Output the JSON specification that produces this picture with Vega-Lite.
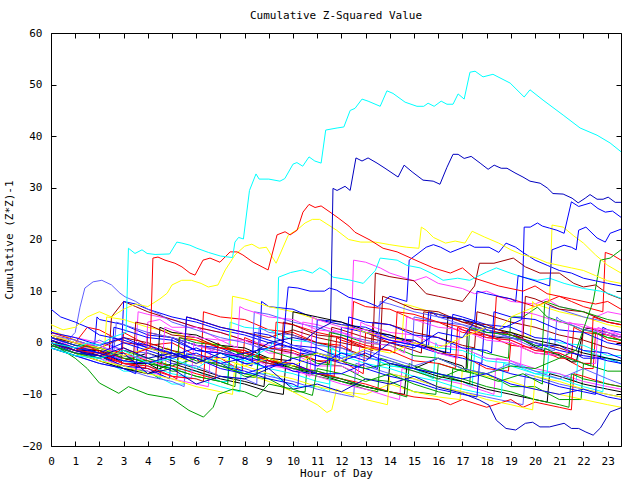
{
"$schema":"https://vega.github.io/schema/vega-lite/v6.json",
"width":570,"height":413,"autosize":"none",
"padding":{"left":51,"top":33,"right":19,"bottom":34},
"background":"white",
"config":{"view":{"stroke":"black","strokeWidth":1},"font":"DejaVu Sans Mono"},
"title":{"text":"Cumulative Z-Squared Value","font":"DejaVu Sans Mono","fontSize":11,"fontWeight":"normal","color":"black","anchor":"middle","offset":6},
"datasets":{"d":[
{"s":"q1","h":0,"v":0.5},{"s":"q1","h":1,"v":-1.5},{"s":"q1","h":2,"v":-2},{"s":"q1","h":2.9,"v":-4.5},{"s":"q1","h":3,"v":2},{"s":"q1","h":4,"v":-0.5},{"s":"q1","h":5,"v":0},{"s":"q1","h":6,"v":-2.5},{"s":"q1","h":7,"v":-3},{"s":"q1","h":7.9,"v":-5.5},{"s":"q1","h":8,"v":1},{"s":"q1","h":9,"v":-1},{"s":"q1","h":10,"v":-1.5},{"s":"q1","h":11,"v":-3.5},{"s":"q1","h":12,"v":-3.5},{"s":"q1","h":12.9,"v":-6},{"s":"q1","h":13,"v":2},{"s":"q1","h":14,"v":0},{"s":"q1","h":15,"v":0.5},{"s":"q1","h":16,"v":-2},{"s":"q1","h":17,"v":-2.5},{"s":"q1","h":18,"v":-5},{"s":"q1","h":18.9,"v":-5.5},{"s":"q1","h":19,"v":0},{"s":"q1","h":20,"v":-2},{"s":"q1","h":21,"v":-2.5},{"s":"q1","h":22,"v":-5},{"s":"q1","h":22.4,"v":-5},{"s":"q1","h":22.5,"v":2},{"s":"q1","h":23,"v":0.5},{"s":"q1","h":23.55,"v":0},
{"s":"q2","h":0,"v":0},{"s":"q2","h":1,"v":-2},{"s":"q2","h":2,"v":-2.5},{"s":"q2","h":3,"v":-5},{"s":"q2","h":4,"v":-5.5},{"s":"q2","h":4.5,"v":-7},{"s":"q2","h":4.6,"v":-1},{"s":"q2","h":5,"v":-1.5},{"s":"q2","h":6,"v":-3.5},{"s":"q2","h":7,"v":-4},{"s":"q2","h":8,"v":-6.5},{"s":"q2","h":9,"v":-7},{"s":"q2","h":10,"v":-9.5},{"s":"q2","h":10.5,"v":-9.5},{"s":"q2","h":10.6,"v":-3},{"s":"q2","h":11,"v":-4},{"s":"q2","h":12,"v":-4.5},{"s":"q2","h":13,"v":-7},{"s":"q2","h":14,"v":-7.5},{"s":"q2","h":15,"v":-9.5},{"s":"q2","h":15.9,"v":-10},{"s":"q2","h":16,"v":-4},{"s":"q2","h":17,"v":-5.5},{"s":"q2","h":18,"v":-6},{"s":"q2","h":19,"v":-8.5},{"s":"q2","h":20,"v":-8.5},{"s":"q2","h":21,"v":-11},{"s":"q2","h":21.9,"v":-11},{"s":"q2","h":22,"v":-4},{"s":"q2","h":23,"v":-5.5},{"s":"q2","h":23.55,"v":-5.5},
{"s":"q3","h":0,"v":1},{"s":"q3","h":1,"v":-0.5},{"s":"q3","h":1.8,"v":-0.5},{"s":"q3","h":1.9,"v":5},{"s":"q3","h":2,"v":4.5},{"s":"q3","h":3,"v":3.5},{"s":"q3","h":4,"v":1.5},{"s":"q3","h":5,"v":1},{"s":"q3","h":6,"v":-1.5},{"s":"q3","h":7,"v":-2},{"s":"q3","h":8,"v":-4},{"s":"q3","h":8.6,"v":-4},{"s":"q3","h":8.7,"v":8},{"s":"q3","h":9,"v":7},{"s":"q3","h":10,"v":6.5},{"s":"q3","h":11,"v":4.5},{"s":"q3","h":12,"v":4},{"s":"q3","h":13,"v":2},{"s":"q3","h":14,"v":1.5},{"s":"q3","h":15,"v":-0.5},{"s":"q3","h":15.6,"v":-0.5},{"s":"q3","h":15.7,"v":6},{"s":"q3","h":16,"v":5},{"s":"q3","h":17,"v":4.5},{"s":"q3","h":18,"v":2},{"s":"q3","h":19,"v":2},{"s":"q3","h":20,"v":-0.5},{"s":"q3","h":21,"v":-0.5},{"s":"q3","h":22,"v":-3},{"s":"q3","h":23,"v":-3},{"s":"q3","h":23.55,"v":-4},
{"s":"q4","h":0,"v":2},{"s":"q4","h":1,"v":1},{"s":"q4","h":2,"v":0},{"s":"q4","h":3,"v":-1.5},{"s":"q4","h":3.5,"v":-2},{"s":"q4","h":3.6,"v":6},{"s":"q4","h":4,"v":5.5},{"s":"q4","h":5,"v":4.5},{"s":"q4","h":6,"v":3},{"s":"q4","h":7,"v":2},{"s":"q4","h":8,"v":0.5},{"s":"q4","h":9,"v":-0.5},{"s":"q4","h":10,"v":-2},{"s":"q4","h":10.3,"v":-2.5},{"s":"q4","h":10.4,"v":4},{"s":"q4","h":11,"v":3.5},{"s":"q4","h":12,"v":2},{"s":"q4","h":12.4,"v":1.5},{"s":"q4","h":12.5,"v":16},{"s":"q4","h":13,"v":15.6},{"s":"q4","h":13.6,"v":14.5},{"s":"q4","h":14,"v":13.5},{"s":"q4","h":15,"v":12},{"s":"q4","h":15.5,"v":12.8},{"s":"q4","h":16,"v":11.5},{"s":"q4","h":17,"v":10.5},{"s":"q4","h":17.5,"v":9.5},{"s":"q4","h":18,"v":10},{"s":"q4","h":18.5,"v":9},{"s":"q4","h":19,"v":8},{"s":"q4","h":20,"v":7.5},{"s":"q4","h":20.5,"v":8.5},{"s":"q4","h":21,"v":7},{"s":"q4","h":22,"v":6},{"s":"q4","h":22.5,"v":5},{"s":"q4","h":23,"v":6},{"s":"q4","h":23.55,"v":5.5},
{"s":"q5","h":0,"v":-0.5},{"s":"q5","h":1,"v":-2.5},{"s":"q5","h":2,"v":-3},{"s":"q5","h":3,"v":-5.5},{"s":"q5","h":4,"v":-5.5},{"s":"q5","h":5,"v":-8},{"s":"q5","h":5.5,"v":-8},{"s":"q5","h":5.6,"v":-2},{"s":"q5","h":6,"v":-3},{"s":"q5","h":7,"v":-3.5},{"s":"q5","h":8,"v":-6},{"s":"q5","h":9,"v":-6},{"s":"q5","h":10,"v":-8.5},{"s":"q5","h":11,"v":-8.5},{"s":"q5","h":11.5,"v":-9.5},{"s":"q5","h":11.6,"v":-1},{"s":"q5","h":12,"v":-2},{"s":"q5","h":13,"v":-2.5},{"s":"q5","h":14,"v":-4.5},{"s":"q5","h":15,"v":-5},{"s":"q5","h":16,"v":-7},{"s":"q5","h":17,"v":-7.5},{"s":"q5","h":17.4,"v":-8.5},{"s":"q5","h":17.5,"v":-2},{"s":"q5","h":18,"v":-3},{"s":"q5","h":19,"v":-3.5},{"s":"q5","h":20,"v":-5.5},{"s":"q5","h":21,"v":-6},{"s":"q5","h":21.7,"v":-7.5},{"s":"q5","h":21.8,"v":-1},{"s":"q5","h":22,"v":-1.5},{"s":"q5","h":23,"v":-3},{"s":"q5","h":23.55,"v":-3.5},
{"s":"q6","h":0,"v":1.5},{"s":"q6","h":1,"v":0},{"s":"q6","h":2,"v":-1.5},{"s":"q6","h":2.4,"v":-2},{"s":"q6","h":2.5,"v":5},{"s":"q6","h":3,"v":8},{"s":"q6","h":3.5,"v":7},{"s":"q6","h":4,"v":6},{"s":"q6","h":5,"v":4.5},{"s":"q6","h":6,"v":3},{"s":"q6","h":7,"v":2},{"s":"q6","h":8,"v":0.5},{"s":"q6","h":9,"v":-1},{"s":"q6","h":10,"v":-2},{"s":"q6","h":11,"v":-3.5},{"s":"q6","h":11.5,"v":-4},{"s":"q6","h":11.6,"v":3},{"s":"q6","h":12,"v":2.5},{"s":"q6","h":13,"v":1},{"s":"q6","h":14,"v":0},{"s":"q6","h":15,"v":-1.5},{"s":"q6","h":15.3,"v":-2},{"s":"q6","h":15.4,"v":6},{"s":"q6","h":16,"v":5.5},{"s":"q6","h":17,"v":4},{"s":"q6","h":18,"v":2.5},{"s":"q6","h":19,"v":1.5},{"s":"q6","h":20,"v":0},{"s":"q6","h":21,"v":-1},{"s":"q6","h":21.9,"v":-2.5},{"s":"q6","h":22,"v":3},{"s":"q6","h":23,"v":2},{"s":"q6","h":23.55,"v":1},
{"s":"q7","h":0,"v":2.5},{"s":"q7","h":1,"v":0.5},{"s":"q7","h":2,"v":-1.5},{"s":"q7","h":3,"v":-3},{"s":"q7","h":4,"v":-4.5},{"s":"q7","h":4.7,"v":-5.5},{"s":"q7","h":4.8,"v":-1},{"s":"q7","h":5,"v":-1.5},{"s":"q7","h":6,"v":-3},{"s":"q7","h":7,"v":-4.5},{"s":"q7","h":8,"v":-6},{"s":"q7","h":9,"v":-7.5},{"s":"q7","h":10,"v":-9.5},{"s":"q7","h":11,"v":-12},{"s":"q7","h":11.4,"v":-13.5},{"s":"q7","h":11.6,"v":-13},{"s":"q7","h":11.8,"v":-9},{"s":"q7","h":12,"v":-9.5},{"s":"q7","h":13,"v":-10},{"s":"q7","h":14,"v":-8},{"s":"q7","h":15,"v":-9.5},{"s":"q7","h":16,"v":-10.5},{"s":"q7","h":16.9,"v":-11},{"s":"q7","h":17,"v":-5},{"s":"q7","h":18,"v":-6.5},{"s":"q7","h":19,"v":-7.5},{"s":"q7","h":20,"v":-9},{"s":"q7","h":21,"v":-10},{"s":"q7","h":22,"v":-11},{"s":"q7","h":23,"v":-12},{"s":"q7","h":23.55,"v":-12.5},
{"s":"q8","h":0,"v":0},{"s":"q8","h":1,"v":-1},{"s":"q8","h":2,"v":-2.5},{"s":"q8","h":3,"v":-3.5},{"s":"q8","h":4,"v":-2},{"s":"q8","h":5,"v":-3.5},{"s":"q8","h":6,"v":-5},{"s":"q8","h":7,"v":-6.5},{"s":"q8","h":8,"v":-7.5},{"s":"q8","h":8.8,"v":-8.5},{"s":"q8","h":8.9,"v":-3},{"s":"q8","h":9,"v":-3.5},{"s":"q8","h":10,"v":-5},{"s":"q8","h":11,"v":-6},{"s":"q8","h":12,"v":-7.5},{"s":"q8","h":13,"v":-8.5},{"s":"q8","h":13.9,"v":-9.5},{"s":"q8","h":14,"v":-4},{"s":"q8","h":15,"v":-5},{"s":"q8","h":16,"v":-3},{"s":"q8","h":17,"v":-4.5},{"s":"q8","h":17.15,"v":-5.5},{"s":"q8","h":17.2,"v":2.5},{"s":"q8","h":17.5,"v":2.5},{"s":"q8","h":18,"v":1.5},{"s":"q8","h":18.5,"v":1},{"s":"q8","h":19,"v":0.9},{"s":"q8","h":19.5,"v":0.5},{"s":"q8","h":20,"v":-0.8},{"s":"q8","h":20.5,"v":-1.8},{"s":"q8","h":21,"v":-2.3},{"s":"q8","h":21.5,"v":-3.7},{"s":"q8","h":21.7,"v":-3.7},{"s":"q8","h":22,"v":2.5},{"s":"q8","h":22.3,"v":2.9},{"s":"q8","h":22.6,"v":2.2},{"s":"q8","h":23,"v":1.5},{"s":"q8","h":23.55,"v":1.1},
{"s":"q9","h":0,"v":-1},{"s":"q9","h":1,"v":-2.5},{"s":"q9","h":2,"v":-4},{"s":"q9","h":3,"v":-5},{"s":"q9","h":4,"v":-6.5},{"s":"q9","h":5,"v":-7.5},{"s":"q9","h":5.5,"v":-8.5},{"s":"q9","h":5.6,"v":-2},{"s":"q9","h":6,"v":-2.5},{"s":"q9","h":7,"v":-4},{"s":"q9","h":8,"v":-5},{"s":"q9","h":9,"v":-6.5},{"s":"q9","h":10,"v":-7.5},{"s":"q9","h":11,"v":-9},{"s":"q9","h":12,"v":-10},{"s":"q9","h":12.5,"v":-10.5},{"s":"q9","h":12.6,"v":-4},{"s":"q9","h":13,"v":-4.5},{"s":"q9","h":14,"v":-6},{"s":"q9","h":15,"v":-7},{"s":"q9","h":16,"v":-8.5},{"s":"q9","h":17,"v":-9.5},{"s":"q9","h":18,"v":-10.5},{"s":"q9","h":19,"v":-11.5},{"s":"q9","h":19.5,"v":-12},{"s":"q9","h":19.6,"v":-6},{"s":"q9","h":20,"v":-6.5},{"s":"q9","h":21,"v":-8},{"s":"q9","h":22,"v":-9},{"s":"q9","h":23,"v":-10},{"s":"q9","h":23.55,"v":-10.5},
{"s":"q10","h":0,"v":1},{"s":"q10","h":1,"v":0},{"s":"q10","h":1.5,"v":3},{"s":"q10","h":2,"v":2.5},{"s":"q10","h":3,"v":0},{"s":"q10","h":4,"v":-0.5},{"s":"q10","h":5,"v":-2.5},{"s":"q10","h":6,"v":-3},{"s":"q10","h":6.2,"v":-4},{"s":"q10","h":6.3,"v":6},{"s":"q10","h":7,"v":5},{"s":"q10","h":8,"v":4.5},{"s":"q10","h":9,"v":2.5},{"s":"q10","h":10,"v":2},{"s":"q10","h":11,"v":0},{"s":"q10","h":12,"v":-0.5},{"s":"q10","h":12.4,"v":-1.5},{"s":"q10","h":12.5,"v":8},{"s":"q10","h":13,"v":7},{"s":"q10","h":14,"v":6.5},{"s":"q10","h":15,"v":4.5},{"s":"q10","h":16,"v":4},{"s":"q10","h":17,"v":2},{"s":"q10","h":18,"v":1.5},{"s":"q10","h":19,"v":-0.5},{"s":"q10","h":20,"v":-1},{"s":"q10","h":21,"v":-3},{"s":"q10","h":21.5,"v":-3},{"s":"q10","h":21.6,"v":3},{"s":"q10","h":22,"v":2},{"s":"q10","h":23,"v":1.5},{"s":"q10","h":23.55,"v":0.5},
{"s":"q11","h":0,"v":1},{"s":"q11","h":1,"v":0},{"s":"q11","h":2,"v":-1.5},{"s":"q11","h":3,"v":-2.5},{"s":"q11","h":4,"v":-4},{"s":"q11","h":5,"v":-5},{"s":"q11","h":6,"v":-6.5},{"s":"q11","h":7,"v":-7.5},{"s":"q11","h":7.6,"v":-8.5},{"s":"q11","h":7.7,"v":-2},{"s":"q11","h":8,"v":-2.5},{"s":"q11","h":9,"v":-4},{"s":"q11","h":10,"v":-5},{"s":"q11","h":11,"v":-6.5},{"s":"q11","h":12,"v":-7.5},{"s":"q11","h":13,"v":-9},{"s":"q11","h":13.5,"v":-9.5},{"s":"q11","h":13.6,"v":-3},{"s":"q11","h":14,"v":-3.5},{"s":"q11","h":15,"v":-5},{"s":"q11","h":16,"v":-6},{"s":"q11","h":17,"v":-7.5},{"s":"q11","h":17.3,"v":-8},{"s":"q11","h":17.4,"v":-1},{"s":"q11","h":18,"v":-2},{"s":"q11","h":18.9,"v":-3},{"s":"q11","h":19,"v":5},{"s":"q11","h":19.5,"v":5},{"s":"q11","h":20.1,"v":6.9},{"s":"q11","h":20.5,"v":5},{"s":"q11","h":21.1,"v":4},{"s":"q11","h":21.5,"v":3.4},{"s":"q11","h":22,"v":2.5},{"s":"q11","h":22.5,"v":2},{"s":"q11","h":23,"v":1},{"s":"q11","h":23.55,"v":0.5},
{"s":"q12","h":0,"v":0.5},{"s":"q12","h":1,"v":-1},{"s":"q12","h":2,"v":-2},{"s":"q12","h":2.9,"v":-3},{"s":"q12","h":3,"v":8},{"s":"q12","h":3.5,"v":7.5},{"s":"q12","h":4,"v":6.5},{"s":"q12","h":5,"v":5},{"s":"q12","h":6,"v":4},{"s":"q12","h":7,"v":2.5},{"s":"q12","h":8,"v":1.5},{"s":"q12","h":9,"v":0},{"s":"q12","h":10,"v":-1},{"s":"q12","h":11,"v":-2.5},{"s":"q12","h":11.9,"v":-3.5},{"s":"q12","h":12,"v":3},{"s":"q12","h":13,"v":2},{"s":"q12","h":14,"v":0.5},{"s":"q12","h":15,"v":-0.5},{"s":"q12","h":16,"v":-2},{"s":"q12","h":17,"v":-3},{"s":"q12","h":17.8,"v":-4},{"s":"q12","h":17.9,"v":3},{"s":"q12","h":18,"v":2.5},{"s":"q12","h":19,"v":1},{"s":"q12","h":20,"v":0},{"s":"q12","h":21,"v":-1.5},{"s":"q12","h":22,"v":-2.5},{"s":"q12","h":22.7,"v":-3},{"s":"q12","h":22.8,"v":3},{"s":"q12","h":23,"v":2.5},{"s":"q12","h":23.55,"v":2},
{"s":"q13","h":0,"v":-0.5},{"s":"q13","h":1,"v":-2},{"s":"q13","h":2,"v":-3},{"s":"q13","h":3,"v":-4.5},{"s":"q13","h":4,"v":-5.5},{"s":"q13","h":5,"v":-7},{"s":"q13","h":6,"v":-8},{"s":"q13","h":6.5,"v":-8.5},{"s":"q13","h":6.6,"v":-1},{"s":"q13","h":7,"v":-1.5},{"s":"q13","h":8,"v":-3},{"s":"q13","h":9,"v":-4},{"s":"q13","h":10,"v":-5.5},{"s":"q13","h":11,"v":-6.5},{"s":"q13","h":12,"v":-8},{"s":"q13","h":13,"v":-9},{"s":"q13","h":14,"v":-10.5},{"s":"q13","h":14.4,"v":-11},{"s":"q13","h":14.5,"v":-5},{"s":"q13","h":15,"v":-5.5},{"s":"q13","h":16,"v":-7},{"s":"q13","h":17,"v":-8},{"s":"q13","h":18,"v":-9.5},{"s":"q13","h":18.3,"v":-10},{"s":"q13","h":18.4,"v":-3},{"s":"q13","h":19,"v":-3.5},{"s":"q13","h":20,"v":-5},{"s":"q13","h":21,"v":-6},{"s":"q13","h":22,"v":-7.5},{"s":"q13","h":23,"v":-8.5},{"s":"q13","h":23.55,"v":-9},
{"s":"q14","h":0,"v":1.5},{"s":"q14","h":1,"v":0},{"s":"q14","h":2,"v":-0.5},{"s":"q14","h":3,"v":-2.5},{"s":"q14","h":4,"v":-3},{"s":"q14","h":5,"v":-5},{"s":"q14","h":6,"v":-5.5},{"s":"q14","h":7,"v":-7.5},{"s":"q14","h":7.3,"v":-7.5},{"s":"q14","h":7.4,"v":4},{"s":"q14","h":8,"v":3},{"s":"q14","h":9,"v":2.5},{"s":"q14","h":10,"v":0.5},{"s":"q14","h":11,"v":0},{"s":"q14","h":12,"v":-2},{"s":"q14","h":13,"v":-2.5},{"s":"q14","h":14,"v":-4.5},{"s":"q14","h":15,"v":-5},{"s":"q14","h":15.8,"v":-7},{"s":"q14","h":15.9,"v":0},{"s":"q14","h":16,"v":-1},{"s":"q14","h":17,"v":-1.5},{"s":"q14","h":18,"v":-3.5},{"s":"q14","h":19,"v":-4},{"s":"q14","h":20,"v":-6},{"s":"q14","h":20.5,"v":-6},{"s":"q14","h":20.6,"v":1},{"s":"q14","h":21,"v":0},{"s":"q14","h":22,"v":-0.5},{"s":"q14","h":23,"v":-2.5},{"s":"q14","h":23.55,"v":-2.5},
{"s":"q15","h":0,"v":0},{"s":"q15","h":1,"v":-1.5},{"s":"q15","h":2,"v":-2.5},{"s":"q15","h":3,"v":-4},{"s":"q15","h":3.9,"v":-5},{"s":"q15","h":4,"v":2},{"s":"q15","h":5,"v":1},{"s":"q15","h":6,"v":-0.5},{"s":"q15","h":7,"v":-1.5},{"s":"q15","h":8,"v":-3},{"s":"q15","h":9,"v":-4},{"s":"q15","h":9.5,"v":-4.5},{"s":"q15","h":9.6,"v":2},{"s":"q15","h":10,"v":1.5},{"s":"q15","h":11,"v":0},{"s":"q15","h":12,"v":-1},{"s":"q15","h":13,"v":-2.5},{"s":"q15","h":13.2,"v":-3},{"s":"q15","h":13.3,"v":4},{"s":"q15","h":14,"v":3.5},{"s":"q15","h":15,"v":2},{"s":"q15","h":16,"v":1},{"s":"q15","h":17,"v":-0.5},{"s":"q15","h":17.5,"v":-1},{"s":"q15","h":17.6,"v":6},{"s":"q15","h":18,"v":5.5},{"s":"q15","h":19,"v":4},{"s":"q15","h":20,"v":3},{"s":"q15","h":21,"v":1.5},{"s":"q15","h":22,"v":0.5},{"s":"q15","h":23,"v":-1},{"s":"q15","h":23.55,"v":-1.5},
{"s":"q16","h":0,"v":1},{"s":"q16","h":1,"v":0},{"s":"q16","h":2,"v":-1},{"s":"q16","h":3,"v":1},{"s":"q16","h":4,"v":0},{"s":"q16","h":5,"v":-1.5},{"s":"q16","h":5.5,"v":-2},{"s":"q16","h":5.6,"v":5},{"s":"q16","h":6,"v":4.5},{"s":"q16","h":7,"v":3},{"s":"q16","h":8,"v":2},{"s":"q16","h":9,"v":1},{"s":"q16","h":10,"v":2.5},{"s":"q16","h":11,"v":1},{"s":"q16","h":12,"v":0},{"s":"q16","h":13,"v":-1},{"s":"q16","h":13.3,"v":-1.5},{"s":"q16","h":13.4,"v":13.5},{"s":"q16","h":14,"v":12.8},{"s":"q16","h":15,"v":12},{"s":"q16","h":15.5,"v":9.5},{"s":"q16","h":16,"v":9},{"s":"q16","h":16.5,"v":8.5},{"s":"q16","h":17,"v":8},{"s":"q16","h":17.5,"v":11},{"s":"q16","h":17.7,"v":15.4},{"s":"q16","h":18.3,"v":15.4},{"s":"q16","h":19.1,"v":16.4},{"s":"q16","h":19.6,"v":14.7},{"s":"q16","h":20.2,"v":13.5},{"s":"q16","h":21,"v":13.5},{"s":"q16","h":21.6,"v":11.5},{"s":"q16","h":22,"v":10.8},{"s":"q16","h":22.5,"v":11.2},{"s":"q16","h":23,"v":9.5},{"s":"q16","h":23.55,"v":8.5},
{"s":"q17","h":0,"v":-0.5},{"s":"q17","h":1,"v":-2},{"s":"q17","h":2,"v":-3.5},{"s":"q17","h":3,"v":-5},{"s":"q17","h":4,"v":-6},{"s":"q17","h":5,"v":-4},{"s":"q17","h":6,"v":-5.5},{"s":"q17","h":7,"v":-7},{"s":"q17","h":8,"v":-8},{"s":"q17","h":9,"v":-9.5},{"s":"q17","h":9.6,"v":-10},{"s":"q17","h":9.7,"v":-4},{"s":"q17","h":10,"v":-4.5},{"s":"q17","h":11,"v":-6},{"s":"q17","h":12,"v":-7},{"s":"q17","h":13,"v":-8.5},{"s":"q17","h":14,"v":-9.5},{"s":"q17","h":14.6,"v":-10},{"s":"q17","h":14.7,"v":-4.5},{"s":"q17","h":15,"v":-5},{"s":"q17","h":16,"v":-6.5},{"s":"q17","h":17,"v":-7.5},{"s":"q17","h":18,"v":-9},{"s":"q17","h":19,"v":-10},{"s":"q17","h":20,"v":-11},{"s":"q17","h":20.5,"v":-11.5},{"s":"q17","h":20.6,"v":-6},{"s":"q17","h":21,"v":-6.5},{"s":"q17","h":22,"v":-8},{"s":"q17","h":23,"v":-9},{"s":"q17","h":23.55,"v":-9.5},
{"s":"q18","h":0,"v":1},{"s":"q18","h":1,"v":-0.5},{"s":"q18","h":2,"v":-1.5},{"s":"q18","h":2.2,"v":-2},{"s":"q18","h":2.3,"v":5},{"s":"q18","h":3,"v":4.5},{"s":"q18","h":4,"v":3},{"s":"q18","h":5,"v":2},{"s":"q18","h":6,"v":0.5},{"s":"q18","h":7,"v":-0.5},{"s":"q18","h":7.4,"v":-1},{"s":"q18","h":7.5,"v":9},{"s":"q18","h":8,"v":8.5},{"s":"q18","h":9,"v":7},{"s":"q18","h":10,"v":6},{"s":"q18","h":11,"v":4.5},{"s":"q18","h":12,"v":3.5},{"s":"q18","h":13,"v":2},{"s":"q18","h":14,"v":1},{"s":"q18","h":14.5,"v":0.5},{"s":"q18","h":14.6,"v":7.5},{"s":"q18","h":15,"v":7},{"s":"q18","h":16,"v":5.5},{"s":"q18","h":17,"v":4.5},{"s":"q18","h":18,"v":3},{"s":"q18","h":19,"v":2},{"s":"q18","h":19.8,"v":1},{"s":"q18","h":19.9,"v":8},{"s":"q18","h":20,"v":7.5},{"s":"q18","h":21,"v":6},{"s":"q18","h":22,"v":5},{"s":"q18","h":23,"v":3.5},{"s":"q18","h":23.55,"v":3},
{"s":"q19","h":0,"v":0},{"s":"q19","h":1,"v":-1.5},{"s":"q19","h":2,"v":0.5},{"s":"q19","h":3,"v":-1.5},{"s":"q19","h":4,"v":-2},{"s":"q19","h":5,"v":-4},{"s":"q19","h":6,"v":-4.5},{"s":"q19","h":7,"v":-6.5},{"s":"q19","h":8,"v":-7},{"s":"q19","h":8.5,"v":-8},{"s":"q19","h":8.6,"v":3},{"s":"q19","h":9,"v":2},{"s":"q19","h":10,"v":1.5},{"s":"q19","h":11,"v":-0.5},{"s":"q19","h":12,"v":-1},{"s":"q19","h":13,"v":-3},{"s":"q19","h":14,"v":-3.5},{"s":"q19","h":14.9,"v":-5},{"s":"q19","h":15,"v":5},{"s":"q19","h":16,"v":4},{"s":"q19","h":17,"v":3.5},{"s":"q19","h":18,"v":1.5},{"s":"q19","h":19,"v":1},{"s":"q19","h":20,"v":-1},{"s":"q19","h":20.8,"v":-1.5},{"s":"q19","h":20.9,"v":5},{"s":"q19","h":21,"v":4.5},{"s":"q19","h":22,"v":2.5},{"s":"q19","h":23,"v":2},{"s":"q19","h":23.55,"v":1},
{"s":"q20","h":0,"v":2},{"s":"q20","h":1,"v":0.5},{"s":"q20","h":2,"v":-1},{"s":"q20","h":3,"v":-2},{"s":"q20","h":4,"v":-3.5},{"s":"q20","h":5,"v":-4.5},{"s":"q20","h":6,"v":-6},{"s":"q20","h":6.8,"v":-7},{"s":"q20","h":6.9,"v":0},{"s":"q20","h":7,"v":-0.5},{"s":"q20","h":8,"v":-2},{"s":"q20","h":9,"v":-3},{"s":"q20","h":10,"v":-4.5},{"s":"q20","h":11,"v":-5.5},{"s":"q20","h":12,"v":-7},{"s":"q20","h":13,"v":-8},{"s":"q20","h":14,"v":-9.5},{"s":"q20","h":15,"v":-10.5},{"s":"q20","h":16,"v":-11},{"s":"q20","h":16.5,"v":-12},{"s":"q20","h":17,"v":-11},{"s":"q20","h":18,"v":-12.5},{"s":"q20","h":19,"v":-11},{"s":"q20","h":19.5,"v":-12.5},{"s":"q20","h":20,"v":-11.5},{"s":"q20","h":21,"v":-12.5},{"s":"q20","h":21.5,"v":-13},{"s":"q20","h":21.6,"v":-6},{"s":"q20","h":22,"v":-6.5},{"s":"q20","h":23,"v":-8},{"s":"q20","h":23.55,"v":-8.5},
{"s":"q21","h":0,"v":-1},{"s":"q21","h":1,"v":-2.5},{"s":"q21","h":2,"v":-1},{"s":"q21","h":3,"v":-2.5},{"s":"q21","h":4,"v":-4},{"s":"q21","h":5,"v":-5},{"s":"q21","h":6,"v":-6.5},{"s":"q21","h":7,"v":-7.5},{"s":"q21","h":7.3,"v":-8},{"s":"q21","h":7.4,"v":-1.5},{"s":"q21","h":8,"v":-2},{"s":"q21","h":9,"v":-3.5},{"s":"q21","h":10,"v":-4.5},{"s":"q21","h":11,"v":-6},{"s":"q21","h":12,"v":-7},{"s":"q21","h":13,"v":-8.5},{"s":"q21","h":14,"v":-9.5},{"s":"q21","h":14.7,"v":-10.5},{"s":"q21","h":14.8,"v":-4},{"s":"q21","h":15,"v":-4.5},{"s":"q21","h":16,"v":-6},{"s":"q21","h":17,"v":-7},{"s":"q21","h":18,"v":-8.5},{"s":"q21","h":19,"v":-9.5},{"s":"q21","h":20,"v":-11},{"s":"q21","h":21,"v":-12},{"s":"q21","h":21.4,"v":-12.5},{"s":"q21","h":21.5,"v":-6},{"s":"q21","h":22,"v":-7},{"s":"q21","h":23,"v":-8},{"s":"q21","h":23.55,"v":-8.5},
{"s":"q22","h":0,"v":0},{"s":"q22","h":1,"v":-2},{"s":"q22","h":2,"v":-2.5},{"s":"q22","h":3,"v":-4.5},{"s":"q22","h":4,"v":-5},{"s":"q22","h":4.9,"v":-7},{"s":"q22","h":5,"v":1},{"s":"q22","h":6,"v":-0.5},{"s":"q22","h":7,"v":-1},{"s":"q22","h":8,"v":-3},{"s":"q22","h":9,"v":-3.5},{"s":"q22","h":10,"v":-5.5},{"s":"q22","h":10.9,"v":-6},{"s":"q22","h":11,"v":4.5},{"s":"q22","h":12,"v":3.5},{"s":"q22","h":13,"v":3},{"s":"q22","h":14,"v":1},{"s":"q22","h":15,"v":0.5},{"s":"q22","h":16,"v":-1.5},{"s":"q22","h":16.5,"v":-2},{"s":"q22","h":16.6,"v":5.5},{"s":"q22","h":17,"v":5},{"s":"q22","h":18,"v":3.5},{"s":"q22","h":19,"v":3},{"s":"q22","h":20,"v":1},{"s":"q22","h":21,"v":0.5},{"s":"q22","h":22,"v":-1.5},{"s":"q22","h":23,"v":-2},{"s":"q22","h":23.55,"v":-3},
{"s":"q23","h":0,"v":1},{"s":"q23","h":1,"v":-1},{"s":"q23","h":2,"v":-1},{"s":"q23","h":3,"v":-3.5},{"s":"q23","h":3.9,"v":-4},{"s":"q23","h":4,"v":4},{"s":"q23","h":4.5,"v":4.5},{"s":"q23","h":5,"v":3},{"s":"q23","h":6,"v":3},{"s":"q23","h":7,"v":0.5},{"s":"q23","h":8,"v":0.5},{"s":"q23","h":9,"v":-2},{"s":"q23","h":10,"v":-2},{"s":"q23","h":11,"v":-4.5},{"s":"q23","h":12,"v":-4.5},{"s":"q23","h":12.7,"v":-6},{"s":"q23","h":12.8,"v":4},{"s":"q23","h":13,"v":3.5},{"s":"q23","h":14,"v":2},{"s":"q23","h":15,"v":1.5},{"s":"q23","h":16,"v":-0.5},{"s":"q23","h":17,"v":-1},{"s":"q23","h":18,"v":-3},{"s":"q23","h":19,"v":-3.5},{"s":"q23","h":19.4,"v":-4.5},{"s":"q23","h":19.5,"v":6},{"s":"q23","h":20,"v":5.5},{"s":"q23","h":21,"v":4},{"s":"q23","h":22,"v":3.5},{"s":"q23","h":23,"v":1.5},{"s":"q23","h":23.55,"v":1},
{"s":"q24","h":0,"v":0.5},{"s":"q24","h":1,"v":-1},{"s":"q24","h":2,"v":-2},{"s":"q24","h":3,"v":-3.5},{"s":"q24","h":4,"v":-4.5},{"s":"q24","h":5,"v":-6},{"s":"q24","h":6,"v":-7},{"s":"q24","h":7,"v":-8.5},{"s":"q24","h":7.8,"v":-9.5},{"s":"q24","h":7.9,"v":-3},{"s":"q24","h":8,"v":-3.5},{"s":"q24","h":9,"v":-5},{"s":"q24","h":10,"v":-6},{"s":"q24","h":11,"v":-7.5},{"s":"q24","h":11.5,"v":-8},{"s":"q24","h":11.6,"v":-2},{"s":"q24","h":12,"v":-2.5},{"s":"q24","h":13,"v":-4},{"s":"q24","h":14,"v":-5},{"s":"q24","h":15,"v":-6.5},{"s":"q24","h":16,"v":-7.5},{"s":"q24","h":17,"v":-9},{"s":"q24","h":18,"v":-10},{"s":"q24","h":18.6,"v":-10.5},{"s":"q24","h":18.7,"v":-4},{"s":"q24","h":19,"v":-4.5},{"s":"q24","h":20,"v":-6},{"s":"q24","h":21,"v":-7},{"s":"q24","h":22,"v":-8.5},{"s":"q24","h":22.8,"v":-9.5},{"s":"q24","h":22.9,"v":-3},{"s":"q24","h":23.55,"v":-4},
{"s":"q25","h":0,"v":-0.5},{"s":"q25","h":1,"v":-2},{"s":"q25","h":2,"v":-3.5},{"s":"q25","h":3,"v":-4.5},{"s":"q25","h":4,"v":-6},{"s":"q25","h":5,"v":-7},{"s":"q25","h":6,"v":-8.5},{"s":"q25","h":7,"v":-9.5},{"s":"q25","h":7.5,"v":-10},{"s":"q25","h":7.6,"v":-4},{"s":"q25","h":8,"v":-4.5},{"s":"q25","h":9,"v":-6},{"s":"q25","h":10,"v":-7},{"s":"q25","h":11,"v":-8.5},{"s":"q25","h":12,"v":-9.5},{"s":"q25","h":13,"v":-11},{"s":"q25","h":13.9,"v":-12},{"s":"q25","h":14,"v":-6},{"s":"q25","h":15,"v":-7},{"s":"q25","h":16,"v":-8.5},{"s":"q25","h":17,"v":-9.5},{"s":"q25","h":18,"v":-11},{"s":"q25","h":19,"v":-12},{"s":"q25","h":19.9,"v":-13},{"s":"q25","h":20,"v":-6.5},{"s":"q25","h":21,"v":-7.5},{"s":"q25","h":22,"v":-9},{"s":"q25","h":23,"v":-10},{"s":"q25","h":23.55,"v":-10.5},
{"s":"q26","h":0,"v":0.5},{"s":"q26","h":1,"v":-1.5},{"s":"q26","h":2,"v":-1.5},{"s":"q26","h":3,"v":-4},{"s":"q26","h":4,"v":-4},{"s":"q26","h":4.4,"v":-5},{"s":"q26","h":4.5,"v":3},{"s":"q26","h":5,"v":2},{"s":"q26","h":6,"v":1.5},{"s":"q26","h":7,"v":-0.5},{"s":"q26","h":8,"v":-1},{"s":"q26","h":9,"v":-3},{"s":"q26","h":9.9,"v":-3.5},{"s":"q26","h":10,"v":6},{"s":"q26","h":11,"v":5},{"s":"q26","h":12,"v":4},{"s":"q26","h":13,"v":2.5},{"s":"q26","h":14,"v":1.5},{"s":"q26","h":15,"v":0},{"s":"q26","h":16,"v":-1.5},{"s":"q26","h":16.3,"v":-2},{"s":"q26","h":16.4,"v":5},{"s":"q26","h":17,"v":4.5},{"s":"q26","h":18,"v":3},{"s":"q26","h":19,"v":2},{"s":"q26","h":20,"v":0.5},{"s":"q26","h":21,"v":-0.5},{"s":"q26","h":22,"v":-2},{"s":"q26","h":23,"v":-3},{"s":"q26","h":23.55,"v":-3.5},
{"s":"q27","h":0,"v":1.5},{"s":"q27","h":1,"v":0.5},{"s":"q27","h":2,"v":-1},{"s":"q27","h":2.6,"v":-1.5},{"s":"q27","h":2.7,"v":4},{"s":"q27","h":3,"v":3.5},{"s":"q27","h":4,"v":2},{"s":"q27","h":5,"v":1},{"s":"q27","h":6,"v":-0.5},{"s":"q27","h":7,"v":-1.5},{"s":"q27","h":8,"v":-3},{"s":"q27","h":8.3,"v":-3.5},{"s":"q27","h":8.4,"v":6},{"s":"q27","h":9,"v":5.5},{"s":"q27","h":10,"v":4},{"s":"q27","h":11,"v":3},{"s":"q27","h":12,"v":1.5},{"s":"q27","h":13,"v":0.5},{"s":"q27","h":13.5,"v":0},{"s":"q27","h":13.6,"v":8},{"s":"q27","h":14,"v":7.5},{"s":"q27","h":15,"v":6},{"s":"q27","h":16,"v":5},{"s":"q27","h":17,"v":3.5},{"s":"q27","h":18,"v":2.5},{"s":"q27","h":19,"v":1},{"s":"q27","h":20,"v":0},{"s":"q27","h":20.5,"v":-0.5},{"s":"q27","h":20.6,"v":7},{"s":"q27","h":21,"v":6.5},{"s":"q27","h":22,"v":5},{"s":"q27","h":23,"v":4},{"s":"q27","h":23.55,"v":3.5},
{"s":"q28","h":0,"v":0},{"s":"q28","h":1,"v":-1.5},{"s":"q28","h":2,"v":-2.5},{"s":"q28","h":3,"v":-4},{"s":"q28","h":4,"v":-5},{"s":"q28","h":5,"v":-6.5},{"s":"q28","h":5.2,"v":-7},{"s":"q28","h":5.3,"v":1},{"s":"q28","h":6,"v":0.5},{"s":"q28","h":7,"v":-1},{"s":"q28","h":8,"v":-2},{"s":"q28","h":9,"v":-3.5},{"s":"q28","h":9.2,"v":-4},{"s":"q28","h":9.3,"v":4},{"s":"q28","h":10,"v":3.5},{"s":"q28","h":11,"v":2},{"s":"q28","h":12,"v":1},{"s":"q28","h":13,"v":-0.5},{"s":"q28","h":14,"v":-1.5},{"s":"q28","h":14.2,"v":-2},{"s":"q28","h":14.3,"v":6},{"s":"q28","h":15,"v":5.5},{"s":"q28","h":16,"v":4},{"s":"q28","h":17,"v":3},{"s":"q28","h":18,"v":1.5},{"s":"q28","h":18.3,"v":1},{"s":"q28","h":18.4,"v":9},{"s":"q28","h":19,"v":8.5},{"s":"q28","h":20,"v":7},{"s":"q28","h":21,"v":9},{"s":"q28","h":21.5,"v":8},{"s":"q28","h":22,"v":7},{"s":"q28","h":22.8,"v":6},{"s":"q28","h":22.9,"v":17.5},{"s":"q28","h":23.2,"v":17},{"s":"q28","h":23.55,"v":16},
{"s":"q29","h":0,"v":-1},{"s":"q29","h":1,"v":-2.5},{"s":"q29","h":2,"v":-4},{"s":"q29","h":3,"v":-5},{"s":"q29","h":3.5,"v":-6},{"s":"q29","h":3.6,"v":0},{"s":"q29","h":4,"v":-0.5},{"s":"q29","h":5,"v":-2},{"s":"q29","h":6,"v":-3},{"s":"q29","h":7,"v":-4.5},{"s":"q29","h":8,"v":-5.5},{"s":"q29","h":9,"v":-7},{"s":"q29","h":10,"v":-8},{"s":"q29","h":10.2,"v":-8.5},{"s":"q29","h":10.3,"v":-2},{"s":"q29","h":11,"v":-2.5},{"s":"q29","h":12,"v":-4},{"s":"q29","h":13,"v":-5},{"s":"q29","h":14,"v":-6.5},{"s":"q29","h":15,"v":-7.5},{"s":"q29","h":16,"v":-9},{"s":"q29","h":17,"v":-10},{"s":"q29","h":17.6,"v":-10.5},{"s":"q29","h":17.7,"v":-4},{"s":"q29","h":18,"v":-4.5},{"s":"q29","h":19,"v":-6},{"s":"q29","h":20,"v":-7},{"s":"q29","h":21,"v":-8.5},{"s":"q29","h":22,"v":-9.5},{"s":"q29","h":22.5,"v":-10},{"s":"q29","h":22.6,"v":-3},{"s":"q29","h":23,"v":-3.5},{"s":"q29","h":23.55,"v":-4},
{"s":"q30","h":0,"v":0},{"s":"q30","h":1,"v":-1.5},{"s":"q30","h":2,"v":-2},{"s":"q30","h":3,"v":-4},{"s":"q30","h":4,"v":-4.5},{"s":"q30","h":5,"v":-6.5},{"s":"q30","h":5.8,"v":-7},{"s":"q30","h":5.9,"v":0},{"s":"q30","h":6,"v":-0.5},{"s":"q30","h":7,"v":-2},{"s":"q30","h":8,"v":-2.5},{"s":"q30","h":9,"v":-4.5},{"s":"q30","h":10,"v":-5},{"s":"q30","h":10.7,"v":-6.5},{"s":"q30","h":10.8,"v":5},{"s":"q30","h":11,"v":4.5},{"s":"q30","h":12,"v":3},{"s":"q30","h":13,"v":2.5},{"s":"q30","h":14,"v":0.5},{"s":"q30","h":15,"v":0},{"s":"q30","h":16,"v":-2},{"s":"q30","h":16.8,"v":-3},{"s":"q30","h":16.9,"v":3},{"s":"q30","h":17,"v":2.5},{"s":"q30","h":18,"v":1},{"s":"q30","h":19,"v":0.5},{"s":"q30","h":20,"v":-1.5},{"s":"q30","h":21,"v":-2},{"s":"q30","h":22,"v":-4},{"s":"q30","h":22.5,"v":-4},{"s":"q30","h":22.6,"v":3},{"s":"q30","h":23,"v":2},{"s":"q30","h":23.55,"v":1.5},
{"s":"q31","h":0,"v":0.5},{"s":"q31","h":1,"v":-1},{"s":"q31","h":2,"v":-1.5},{"s":"q31","h":3,"v":-3},{"s":"q31","h":3.4,"v":-3.5},{"s":"q31","h":3.5,"v":4},{"s":"q31","h":4,"v":3.5},{"s":"q31","h":5,"v":1.5},{"s":"q31","h":6,"v":1},{"s":"q31","h":7,"v":-1},{"s":"q31","h":8,"v":-1.5},{"s":"q31","h":9,"v":-3.5},{"s":"q31","h":9.5,"v":-4},{"s":"q31","h":9.6,"v":4},{"s":"q31","h":10,"v":3.5},{"s":"q31","h":11,"v":1.5},{"s":"q31","h":12,"v":1},{"s":"q31","h":13,"v":-1},{"s":"q31","h":13.6,"v":-1.5},{"s":"q31","h":13.7,"v":9},{"s":"q31","h":14,"v":8.5},{"s":"q31","h":15,"v":6.5},{"s":"q31","h":16,"v":6},{"s":"q31","h":17,"v":4},{"s":"q31","h":18,"v":3.5},{"s":"q31","h":19,"v":1.5},{"s":"q31","h":19.5,"v":1},{"s":"q31","h":19.6,"v":9},{"s":"q31","h":20,"v":8.5},{"s":"q31","h":21,"v":6.5},{"s":"q31","h":22,"v":6},{"s":"q31","h":23,"v":4},{"s":"q31","h":23.55,"v":3.5},
{"s":"q32","h":0,"v":1},{"s":"q32","h":1,"v":-0.5},{"s":"q32","h":2,"v":-1},{"s":"q32","h":3,"v":-3},{"s":"q32","h":4,"v":-3.5},{"s":"q32","h":5,"v":-5.5},{"s":"q32","h":5.2,"v":-5.5},{"s":"q32","h":5.3,"v":1},{"s":"q32","h":6,"v":0},{"s":"q32","h":7,"v":-0.5},{"s":"q32","h":8,"v":-2.5},{"s":"q32","h":9,"v":-3},{"s":"q32","h":10,"v":-5},{"s":"q32","h":11,"v":-5.5},{"s":"q32","h":11.4,"v":-6},{"s":"q32","h":11.5,"v":2},{"s":"q32","h":12,"v":1.5},{"s":"q32","h":13,"v":0},{"s":"q32","h":14,"v":-0.5},{"s":"q32","h":15,"v":-2.5},{"s":"q32","h":16,"v":-3},{"s":"q32","h":17,"v":-5},{"s":"q32","h":17.2,"v":-5},{"s":"q32","h":17.3,"v":3},{"s":"q32","h":18,"v":2},{"s":"q32","h":19,"v":1.5},{"s":"q32","h":20,"v":-0.5},{"s":"q32","h":20.3,"v":-1},{"s":"q32","h":20.4,"v":8},{"s":"q32","h":21,"v":7},{"s":"q32","h":22,"v":6},{"s":"q32","h":23,"v":4.5},{"s":"q32","h":23.55,"v":4},
{"s":"q33","h":0,"v":-0.5},{"s":"q33","h":1,"v":-2},{"s":"q33","h":2,"v":-2.5},{"s":"q33","h":2.5,"v":-3.5},{"s":"q33","h":2.6,"v":3},{"s":"q33","h":3,"v":2.5},{"s":"q33","h":4,"v":1},{"s":"q33","h":5,"v":0.5},{"s":"q33","h":6,"v":-1.5},{"s":"q33","h":7,"v":-2},{"s":"q33","h":8,"v":-4},{"s":"q33","h":8.3,"v":-4.5},{"s":"q33","h":8.4,"v":2},{"s":"q33","h":9,"v":1.5},{"s":"q33","h":10,"v":-0.5},{"s":"q33","h":11,"v":-1},{"s":"q33","h":12,"v":-3},{"s":"q33","h":12.2,"v":-3.5},{"s":"q33","h":12.3,"v":5},{"s":"q33","h":13,"v":4},{"s":"q33","h":14,"v":3.5},{"s":"q33","h":15,"v":1.5},{"s":"q33","h":16,"v":1},{"s":"q33","h":17,"v":-1},{"s":"q33","h":18,"v":-1.5},{"s":"q33","h":18.2,"v":-2},{"s":"q33","h":18.3,"v":6},{"s":"q33","h":19,"v":5},{"s":"q33","h":20,"v":4.5},{"s":"q33","h":21,"v":2.5},{"s":"q33","h":22,"v":2},{"s":"q33","h":23,"v":0},{"s":"q33","h":23.55,"v":-0.5},
{"s":"q34","h":0,"v":1.5},{"s":"q34","h":1,"v":0},{"s":"q34","h":2,"v":-0.5},{"s":"q34","h":3,"v":-2.5},{"s":"q34","h":4,"v":-3},{"s":"q34","h":4.6,"v":-4.5},{"s":"q34","h":4.7,"v":3},{"s":"q34","h":5,"v":2.5},{"s":"q34","h":6,"v":1},{"s":"q34","h":7,"v":0.5},{"s":"q34","h":7.7,"v":-1},{"s":"q34","h":7.8,"v":7},{"s":"q34","h":8,"v":6.5},{"s":"q34","h":9,"v":5},{"s":"q34","h":10,"v":4.5},{"s":"q34","h":11,"v":2.5},{"s":"q34","h":12,"v":2},{"s":"q34","h":13,"v":0},{"s":"q34","h":14,"v":-0.5},{"s":"q34","h":14.6,"v":-2},{"s":"q34","h":14.7,"v":5},{"s":"q34","h":15,"v":4.5},{"s":"q34","h":16,"v":3},{"s":"q34","h":17,"v":2.5},{"s":"q34","h":18,"v":0.5},{"s":"q34","h":19,"v":0},{"s":"q34","h":20,"v":-2},{"s":"q34","h":21,"v":-2.5},{"s":"q34","h":21.3,"v":-3},{"s":"q34","h":21.4,"v":4},{"s":"q34","h":22,"v":3},{"s":"q34","h":23,"v":2.5},{"s":"q34","h":23.55,"v":1.5},
{"s":"q35","h":0,"v":0},{"s":"q35","h":1,"v":-1.5},{"s":"q35","h":2,"v":-2},{"s":"q35","h":3,"v":-4},{"s":"q35","h":4,"v":-4.5},{"s":"q35","h":5,"v":-6.5},{"s":"q35","h":6,"v":-7},{"s":"q35","h":6.3,"v":-7.5},{"s":"q35","h":6.4,"v":0},{"s":"q35","h":7,"v":-1},{"s":"q35","h":8,"v":-1.5},{"s":"q35","h":9,"v":-3.5},{"s":"q35","h":10,"v":-4},{"s":"q35","h":11,"v":-6},{"s":"q35","h":11.7,"v":-6.5},{"s":"q35","h":11.8,"v":1},{"s":"q35","h":12,"v":0.5},{"s":"q35","h":13,"v":-1},{"s":"q35","h":14,"v":-1.5},{"s":"q35","h":15,"v":-3.5},{"s":"q35","h":16,"v":-4},{"s":"q35","h":16.7,"v":-5},{"s":"q35","h":16.8,"v":3},{"s":"q35","h":17,"v":2.5},{"s":"q35","h":18,"v":1},{"s":"q35","h":19,"v":0.5},{"s":"q35","h":20,"v":-1.5},{"s":"q35","h":21,"v":-2},{"s":"q35","h":22,"v":-4},{"s":"q35","h":22.3,"v":-4},{"s":"q35","h":22.4,"v":5},{"s":"q35","h":23,"v":4},{"s":"q35","h":23.55,"v":3.5},
{"s":"p8","h":0,"v":0},{"s":"p8","h":1,"v":-1.5},{"s":"p8","h":2,"v":-3},{"s":"p8","h":3,"v":-2},{"s":"p8","h":3.5,"v":-4},{"s":"p8","h":4,"v":-6},{"s":"p8","h":5,"v":-5},{"s":"p8","h":6,"v":-8},{"s":"p8","h":7,"v":-6.5},{"s":"p8","h":8,"v":-7},{"s":"p8","h":9,"v":-5},{"s":"p8","h":10,"v":-9},{"s":"p8","h":11,"v":-8},{"s":"p8","h":12,"v":-9.5},{"s":"p8","h":13,"v":-7},{"s":"p8","h":14,"v":-8},{"s":"p8","h":15,"v":-6.5},{"s":"p8","h":16,"v":-8.6},{"s":"p8","h":17,"v":-9.8},{"s":"p8","h":17.7,"v":-11.1},{"s":"p8","h":18.1,"v":-12.1},{"s":"p8","h":18.4,"v":-15},{"s":"p8","h":18.8,"v":-16.6},{"s":"p8","h":19.2,"v":-16.9},{"s":"p8","h":19.6,"v":-15.6},{"s":"p8","h":19.9,"v":-15.4},{"s":"p8","h":20.2,"v":-16.3},{"s":"p8","h":20.6,"v":-16.3},{"s":"p8","h":21.2,"v":-15.6},{"s":"p8","h":21.5,"v":-16.6},{"s":"p8","h":21.8,"v":-16.6},{"s":"p8","h":22.1,"v":-17.3},{"s":"p8","h":22.4,"v":-17.9},{"s":"p8","h":22.7,"v":-16.5},{"s":"p8","h":23.1,"v":-13.4},{"s":"p8","h":23.55,"v":-12.6},
{"s":"p9","h":0,"v":0},{"s":"p9","h":0.5,"v":-1.5},{"s":"p9","h":1,"v":-3},{"s":"p9","h":1.5,"v":-5},{"s":"p9","h":2,"v":-7.8},{"s":"p9","h":2.8,"v":-9.8},{"s":"p9","h":3.2,"v":-8.5},{"s":"p9","h":4,"v":-10},{"s":"p9","h":5,"v":-10.8},{"s":"p9","h":5.7,"v":-13.1},{"s":"p9","h":6.3,"v":-14.4},{"s":"p9","h":6.7,"v":-12.5},{"s":"p9","h":6.9,"v":-10},{"s":"p9","h":7.5,"v":-9},{"s":"p9","h":8,"v":-9.5},{"s":"p9","h":8.5,"v":-10.5},{"s":"p9","h":9,"v":-8},{"s":"p9","h":10,"v":-9},{"s":"p9","h":10.8,"v":-10.2},{"s":"p9","h":11,"v":-5},{"s":"p9","h":12,"v":-6},{"s":"p9","h":13,"v":-7.5},{"s":"p9","h":14,"v":-6},{"s":"p9","h":15,"v":-8},{"s":"p9","h":16,"v":-9.5},{"s":"p9","h":16.5,"v":-10},{"s":"p9","h":16.6,"v":-5},{"s":"p9","h":17.5,"v":-6},{"s":"p9","h":18.5,"v":-7.5},{"s":"p9","h":19.5,"v":-6},{"s":"p9","h":20.3,"v":-8},{"s":"p9","h":20.4,"v":-1},{"s":"p9","h":21,"v":-2.5},{"s":"p9","h":22,"v":-4},{"s":"p9","h":22.3,"v":-4.5},{"s":"p9","h":22.4,"v":2},{"s":"p9","h":23,"v":1},{"s":"p9","h":23.55,"v":0.5},
{"s":"p10","h":0,"v":-0.5},{"s":"p10","h":1,"v":-2},{"s":"p10","h":2,"v":-3},{"s":"p10","h":3,"v":-1.5},{"s":"p10","h":4,"v":-3},{"s":"p10","h":5,"v":-4.5},{"s":"p10","h":6,"v":-3},{"s":"p10","h":7,"v":-4.5},{"s":"p10","h":8,"v":-6},{"s":"p10","h":8.5,"v":-6.5},{"s":"p10","h":8.6,"v":-1},{"s":"p10","h":9,"v":-1.5},{"s":"p10","h":10,"v":-3},{"s":"p10","h":11,"v":-2},{"s":"p10","h":12,"v":-3.5},{"s":"p10","h":13,"v":-5},{"s":"p10","h":14,"v":-4},{"s":"p10","h":15,"v":-5.5},{"s":"p10","h":16,"v":-7},{"s":"p10","h":17,"v":-5},{"s":"p10","h":18,"v":-6},{"s":"p10","h":19,"v":-4.5},{"s":"p10","h":20,"v":-5},{"s":"p10","h":21,"v":-3},{"s":"p10","h":21.7,"v":-1.4},{"s":"p10","h":22.1,"v":4},{"s":"p10","h":22.4,"v":8},{"s":"p10","h":22.5,"v":10.6},{"s":"p10","h":22.7,"v":16},{"s":"p10","h":23.1,"v":16.4},{"s":"p10","h":23.55,"v":18},
{"s":"p11","h":0,"v":1},{"s":"p11","h":0.6,"v":0},{"s":"p11","h":1,"v":2},{"s":"p11","h":1.2,"v":6.9},{"s":"p11","h":1.4,"v":10.6},{"s":"p11","h":1.74,"v":11.8},{"s":"p11","h":2.1,"v":12.1},{"s":"p11","h":2.5,"v":11.2},{"s":"p11","h":2.85,"v":9.6},{"s":"p11","h":3.06,"v":8.9},{"s":"p11","h":3.5,"v":8},{"s":"p11","h":4,"v":6.5},{"s":"p11","h":4.5,"v":5.5},{"s":"p11","h":5,"v":4},{"s":"p11","h":6,"v":2.5},{"s":"p11","h":7,"v":1},{"s":"p11","h":8,"v":0},{"s":"p11","h":9,"v":-1.5},{"s":"p11","h":10,"v":-0.5},{"s":"p11","h":11,"v":-2},{"s":"p11","h":12,"v":-3},{"s":"p11","h":13,"v":-1.5},{"s":"p11","h":14,"v":-3},{"s":"p11","h":15,"v":-4.5},{"s":"p11","h":16,"v":-3},{"s":"p11","h":17,"v":-5},{"s":"p11","h":18,"v":-6},{"s":"p11","h":19,"v":-4},{"s":"p11","h":20,"v":-5.5},{"s":"p11","h":21,"v":-7},{"s":"p11","h":22,"v":-5},{"s":"p11","h":23,"v":-7},{"s":"p11","h":23.55,"v":-8},
{"s":"p12","h":0,"v":6.5},{"s":"p12","h":0.4,"v":5},{"s":"p12","h":1,"v":4},{"s":"p12","h":1.5,"v":3},{"s":"p12","h":2,"v":1.5},{"s":"p12","h":3,"v":0.5},{"s":"p12","h":4,"v":-1},{"s":"p12","h":5,"v":-2},{"s":"p12","h":5.5,"v":-3},{"s":"p12","h":5.6,"v":5},{"s":"p12","h":6,"v":4.5},{"s":"p12","h":7,"v":3},{"s":"p12","h":8,"v":2},{"s":"p12","h":9,"v":0.5},{"s":"p12","h":10,"v":-1},{"s":"p12","h":11,"v":-2},{"s":"p12","h":12,"v":-3.5},{"s":"p12","h":13,"v":-2},{"s":"p12","h":14,"v":-4},{"s":"p12","h":15,"v":-5},{"s":"p12","h":16,"v":-6},{"s":"p12","h":17,"v":-7},{"s":"p12","h":18,"v":-6},{"s":"p12","h":19,"v":-8},{"s":"p12","h":20,"v":-9},{"s":"p12","h":21,"v":-10},{"s":"p12","h":22,"v":-9},{"s":"p12","h":23,"v":-10.5},{"s":"p12","h":23.55,"v":-11},
{"s":"p13","h":0,"v":2},{"s":"p13","h":1,"v":1},{"s":"p13","h":2,"v":-0.5},{"s":"p13","h":3,"v":1},{"s":"p13","h":4,"v":-1},{"s":"p13","h":5,"v":-2.5},{"s":"p13","h":6,"v":-1},{"s":"p13","h":7,"v":-3},{"s":"p13","h":8,"v":-2},{"s":"p13","h":9,"v":-1},{"s":"p13","h":9.6,"v":0},{"s":"p13","h":9.7,"v":5.9},{"s":"p13","h":9.8,"v":10.8},{"s":"p13","h":10.2,"v":10.6},{"s":"p13","h":10.7,"v":10},{"s":"p13","h":11.3,"v":10},{"s":"p13","h":11.5,"v":10.6},{"s":"p13","h":11.8,"v":10.2},{"s":"p13","h":12.3,"v":8.8},{"s":"p13","h":13,"v":8},{"s":"p13","h":13.5,"v":7},{"s":"p13","h":14,"v":9},{"s":"p13","h":14.7,"v":8},{"s":"p13","h":14.8,"v":16},{"s":"p13","h":15.5,"v":18.5},{"s":"p13","h":15.8,"v":19},{"s":"p13","h":16.1,"v":18.5},{"s":"p13","h":16.5,"v":17.5},{"s":"p13","h":17.3,"v":19},{"s":"p13","h":17.5,"v":18.5},{"s":"p13","h":18.1,"v":18.5},{"s":"p13","h":18.5,"v":17.5},{"s":"p13","h":18.8,"v":19.3},{"s":"p13","h":19.2,"v":18.5},{"s":"p13","h":19.5,"v":17.5},{"s":"p13","h":20,"v":16},{"s":"p13","h":20.5,"v":15},{"s":"p13","h":21,"v":14},{"s":"p13","h":21.5,"v":13.5},{"s":"p13","h":22,"v":12.5},{"s":"p13","h":22.5,"v":12},{"s":"p13","h":23,"v":11.5},{"s":"p13","h":23.55,"v":11},
{"s":"p14","h":0,"v":1.5},{"s":"p14","h":1,"v":0},{"s":"p14","h":2,"v":-1},{"s":"p14","h":3,"v":-2.5},{"s":"p14","h":4,"v":-1},{"s":"p14","h":5,"v":-2.5},{"s":"p14","h":6,"v":-4},{"s":"p14","h":7,"v":-3},{"s":"p14","h":8,"v":-4.5},{"s":"p14","h":9,"v":-3},{"s":"p14","h":10,"v":-4.5},{"s":"p14","h":11,"v":-2},{"s":"p14","h":12,"v":-3.5},{"s":"p14","h":13,"v":-1},{"s":"p14","h":14,"v":-2},{"s":"p14","h":15,"v":0},{"s":"p14","h":16,"v":-1},{"s":"p14","h":17,"v":1},{"s":"p14","h":18,"v":3},{"s":"p14","h":18.5,"v":2.5},{"s":"p14","h":19,"v":5},{"s":"p14","h":19.5,"v":6},{"s":"p14","h":20,"v":7},{"s":"p14","h":20.6,"v":8},{"s":"p14","h":20.7,"v":22.8},{"s":"p14","h":21.16,"v":22.4},{"s":"p14","h":21.6,"v":20.7},{"s":"p14","h":22,"v":19.3},{"s":"p14","h":22.5,"v":17},{"s":"p14","h":23,"v":15},{"s":"p14","h":23.55,"v":13.5},
{"s":"p7","h":0,"v":-1},{"s":"p7","h":1,"v":-2.5},{"s":"p7","h":2,"v":-3},{"s":"p7","h":3,"v":-1.5},{"s":"p7","h":4,"v":-4},{"s":"p7","h":5,"v":-3},{"s":"p7","h":6,"v":-5},{"s":"p7","h":7,"v":-2},{"s":"p7","h":8,"v":-3.5},{"s":"p7","h":9,"v":-1},{"s":"p7","h":9.35,"v":1},{"s":"p7","h":9.4,"v":12.7},{"s":"p7","h":9.9,"v":13.6},{"s":"p7","h":10.4,"v":14.1},{"s":"p7","h":10.8,"v":13.5},{"s":"p7","h":11.1,"v":14.5},{"s":"p7","h":11.4,"v":13.8},{"s":"p7","h":11.65,"v":12.7},{"s":"p7","h":12.3,"v":12.2},{"s":"p7","h":12.9,"v":11.5},{"s":"p7","h":13.4,"v":14},{"s":"p7","h":13.6,"v":16.4},{"s":"p7","h":14.3,"v":16},{"s":"p7","h":14.7,"v":15},{"s":"p7","h":15.25,"v":14.5},{"s":"p7","h":15.7,"v":13.5},{"s":"p7","h":16.2,"v":12.1},{"s":"p7","h":16.8,"v":12.5},{"s":"p7","h":17.3,"v":12.1},{"s":"p7","h":18,"v":13.7},{"s":"p7","h":18.4,"v":14.5},{"s":"p7","h":18.97,"v":13.5},{"s":"p7","h":19.5,"v":12.7},{"s":"p7","h":20.1,"v":12.1},{"s":"p7","h":20.6,"v":12.5},{"s":"p7","h":21.2,"v":11.5},{"s":"p7","h":22,"v":10.5},{"s":"p7","h":22.7,"v":10},{"s":"p7","h":23,"v":9.6},{"s":"p7","h":23.55,"v":8.6},
{"s":"p6","h":0,"v":0.5},{"s":"p6","h":1,"v":-1},{"s":"p6","h":2,"v":-2},{"s":"p6","h":3,"v":-3.5},{"s":"p6","h":4,"v":-4},{"s":"p6","h":5,"v":-2.5},{"s":"p6","h":6,"v":-3},{"s":"p6","h":7,"v":-5},{"s":"p6","h":8,"v":-6},{"s":"p6","h":9,"v":-4.5},{"s":"p6","h":10,"v":-4},{"s":"p6","h":11,"v":-6},{"s":"p6","h":12,"v":-6},{"s":"p6","h":13,"v":-4},{"s":"p6","h":13.5,"v":-5},{"s":"p6","h":13.6,"v":1},{"s":"p6","h":14,"v":0.5},{"s":"p6","h":15,"v":-0.5},{"s":"p6","h":15.5,"v":-1},{"s":"p6","h":15.6,"v":6},{"s":"p6","h":16,"v":5.5},{"s":"p6","h":17,"v":4.5},{"s":"p6","h":17.5,"v":4},{"s":"p6","h":17.6,"v":10},{"s":"p6","h":18,"v":9.5},{"s":"p6","h":18.5,"v":9},{"s":"p6","h":19,"v":8.5},{"s":"p6","h":19.2,"v":8},{"s":"p6","h":19.3,"v":13},{"s":"p6","h":20,"v":12},{"s":"p6","h":20.6,"v":11},{"s":"p6","h":20.7,"v":18},{"s":"p6","h":21.2,"v":18.9},{"s":"p6","h":21.5,"v":18.5},{"s":"p6","h":21.7,"v":18},{"s":"p6","h":21.8,"v":21.8},{"s":"p6","h":22.1,"v":22.4},{"s":"p6","h":22.56,"v":20.3},{"s":"p6","h":22.9,"v":19.5},{"s":"p6","h":23.1,"v":21.2},{"s":"p6","h":23.55,"v":22},
{"s":"p5","h":0,"v":1},{"s":"p5","h":1,"v":-0.5},{"s":"p5","h":2,"v":-2},{"s":"p5","h":3,"v":0},{"s":"p5","h":4,"v":-1.5},{"s":"p5","h":5,"v":-3},{"s":"p5","h":6,"v":-2},{"s":"p5","h":7,"v":-4},{"s":"p5","h":8,"v":-3},{"s":"p5","h":9,"v":-5},{"s":"p5","h":10,"v":-3},{"s":"p5","h":11,"v":-4.5},{"s":"p5","h":12,"v":-2},{"s":"p5","h":13,"v":-3.5},{"s":"p5","h":14,"v":0},{"s":"p5","h":15,"v":-1},{"s":"p5","h":16,"v":2},{"s":"p5","h":17,"v":1},{"s":"p5","h":17.5,"v":4},{"s":"p5","h":18,"v":3},{"s":"p5","h":18.5,"v":2.5},{"s":"p5","h":19,"v":3.5},{"s":"p5","h":19.45,"v":4.5},{"s":"p5","h":19.55,"v":22.4},{"s":"p5","h":19.8,"v":22.4},{"s":"p5","h":20.1,"v":23.2},{"s":"p5","h":20.3,"v":22.6},{"s":"p5","h":20.6,"v":22.2},{"s":"p5","h":20.9,"v":21.8},{"s":"p5","h":21.2,"v":21.2},{"s":"p5","h":21.5,"v":27.3},{"s":"p5","h":21.8,"v":26.4},{"s":"p5","h":22.3,"v":27.1},{"s":"p5","h":22.6,"v":26},{"s":"p5","h":22.9,"v":25.3},{"s":"p5","h":23.2,"v":25.5},{"s":"p5","h":23.55,"v":24.3},
{"s":"p4","h":0,"v":3.5},{"s":"p4","h":0.5,"v":2.5},{"s":"p4","h":1,"v":3},{"s":"p4","h":1.5,"v":5},{"s":"p4","h":2,"v":6},{"s":"p4","h":2.5,"v":5},{"s":"p4","h":3,"v":6.5},{"s":"p4","h":3.5,"v":7.5},{"s":"p4","h":4,"v":7},{"s":"p4","h":4.5,"v":8.5},{"s":"p4","h":4.8,"v":9.6},{"s":"p4","h":5,"v":11.2},{"s":"p4","h":5.4,"v":12.1},{"s":"p4","h":5.8,"v":12.1},{"s":"p4","h":6.2,"v":11.5},{"s":"p4","h":6.5,"v":10.8},{"s":"p4","h":6.9,"v":11.2},{"s":"p4","h":7.2,"v":14.1},{"s":"p4","h":7.6,"v":17},{"s":"p4","h":8,"v":18.7},{"s":"p4","h":8.3,"v":19.1},{"s":"p4","h":8.6,"v":18.3},{"s":"p4","h":8.9,"v":18.5},{"s":"p4","h":9.3,"v":15.4},{"s":"p4","h":9.8,"v":20.8},{"s":"p4","h":10.2,"v":22},{"s":"p4","h":10.5,"v":23.2},{"s":"p4","h":10.8,"v":23.9},{"s":"p4","h":11.1,"v":23.9},{"s":"p4","h":11.4,"v":23},{"s":"p4","h":11.8,"v":21.8},{"s":"p4","h":12.3,"v":20},{"s":"p4","h":12.8,"v":19.5},{"s":"p4","h":13.4,"v":19.5},{"s":"p4","h":14,"v":19},{"s":"p4","h":14.7,"v":18.5},{"s":"p4","h":15.2,"v":18.3},{"s":"p4","h":15.3,"v":22.4},{"s":"p4","h":15.5,"v":21.8},{"s":"p4","h":15.8,"v":20.4},{"s":"p4","h":16.3,"v":19.3},{"s":"p4","h":16.7,"v":19.7},{"s":"p4","h":17.1,"v":19.3},{"s":"p4","h":17.4,"v":21.6},{"s":"p4","h":17.9,"v":20.5},{"s":"p4","h":18.5,"v":19.3},{"s":"p4","h":19,"v":18},{"s":"p4","h":19.5,"v":17},{"s":"p4","h":20,"v":16.5},{"s":"p4","h":20.5,"v":15.5},{"s":"p4","h":21,"v":15},{"s":"p4","h":21.5,"v":14.5},{"s":"p4","h":22,"v":14},{"s":"p4","h":22.5,"v":13},{"s":"p4","h":23,"v":12},{"s":"p4","h":23.55,"v":11.5},
{"s":"p3","h":0,"v":0},{"s":"p3","h":0.5,"v":-0.8},{"s":"p3","h":1,"v":-1.5},{"s":"p3","h":1.5,"v":-0.5},{"s":"p3","h":2,"v":-1.8},{"s":"p3","h":2.5,"v":-2.5},{"s":"p3","h":3,"v":-1},{"s":"p3","h":3.5,"v":-2},{"s":"p3","h":4.1,"v":-1},{"s":"p3","h":4.21,"v":16.4},{"s":"p3","h":4.42,"v":16.6},{"s":"p3","h":4.71,"v":16},{"s":"p3","h":5.12,"v":15.4},{"s":"p3","h":5.41,"v":14.7},{"s":"p3","h":5.74,"v":13.5},{"s":"p3","h":5.95,"v":13.1},{"s":"p3","h":6.28,"v":16},{"s":"p3","h":6.57,"v":16.4},{"s":"p3","h":6.98,"v":15.6},{"s":"p3","h":7.4,"v":17.6},{"s":"p3","h":7.69,"v":17.6},{"s":"p3","h":7.93,"v":17},{"s":"p3","h":8.35,"v":15.6},{"s":"p3","h":8.72,"v":14.7},{"s":"p3","h":8.97,"v":14.1},{"s":"p3","h":9.34,"v":20.9},{"s":"p3","h":9.67,"v":21.5},{"s":"p3","h":9.88,"v":20.9},{"s":"p3","h":10.17,"v":21.8},{"s":"p3","h":10.41,"v":25.3},{"s":"p3","h":10.66,"v":26.8},{"s":"p3","h":10.91,"v":26.2},{"s":"p3","h":11.16,"v":26.5},{"s":"p3","h":11.53,"v":25.3},{"s":"p3","h":11.86,"v":24.2},{"s":"p3","h":12.31,"v":22.6},{"s":"p3","h":12.56,"v":21.4},{"s":"p3","h":13.18,"v":19.9},{"s":"p3","h":13.72,"v":18.3},{"s":"p3","h":14.3,"v":17.6},{"s":"p3","h":15.25,"v":15.6},{"s":"p3","h":15.8,"v":14.5},{"s":"p3","h":16.5,"v":13.5},{"s":"p3","h":17,"v":14.5},{"s":"p3","h":17.5,"v":12.5},{"s":"p3","h":18.5,"v":11},{"s":"p3","h":19.5,"v":10},{"s":"p3","h":20,"v":11},{"s":"p3","h":20.5,"v":9.5},{"s":"p3","h":21.5,"v":8.5},{"s":"p3","h":22.5,"v":7.5},{"s":"p3","h":23,"v":8},{"s":"p3","h":23.55,"v":6.5},
{"s":"p2","h":0,"v":0},{"s":"p2","h":1,"v":-1.5},{"s":"p2","h":2,"v":-2.5},{"s":"p2","h":3,"v":-1},{"s":"p2","h":4,"v":-3},{"s":"p2","h":5,"v":-2},{"s":"p2","h":6,"v":-4},{"s":"p2","h":7,"v":-2},{"s":"p2","h":8,"v":-3},{"s":"p2","h":9,"v":0},{"s":"p2","h":10,"v":1},{"s":"p2","h":10.5,"v":0.5},{"s":"p2","h":11,"v":2.5},{"s":"p2","h":11.55,"v":3.8},{"s":"p2","h":11.65,"v":29.9},{"s":"p2","h":11.82,"v":29.5},{"s":"p2","h":12.15,"v":30.3},{"s":"p2","h":12.36,"v":29.5},{"s":"p2","h":12.6,"v":35.8},{"s":"p2","h":12.85,"v":35.2},{"s":"p2","h":13.1,"v":35.8},{"s":"p2","h":13.47,"v":34.8},{"s":"p2","h":13.8,"v":33.8},{"s":"p2","h":14.34,"v":32.1},{"s":"p2","h":14.59,"v":34.4},{"s":"p2","h":14.92,"v":33.1},{"s":"p2","h":15.37,"v":31.5},{"s":"p2","h":15.79,"v":31.3},{"s":"p2","h":16.07,"v":30.7},{"s":"p2","h":16.36,"v":34},{"s":"p2","h":16.61,"v":36.5},{"s":"p2","h":16.82,"v":36.5},{"s":"p2","h":17.07,"v":35.7},{"s":"p2","h":17.36,"v":36.1},{"s":"p2","h":17.73,"v":34.8},{"s":"p2","h":18.06,"v":33.6},{"s":"p2","h":18.31,"v":34.4},{"s":"p2","h":18.6,"v":33.8},{"s":"p2","h":18.84,"v":33.8},{"s":"p2","h":19.17,"v":32.9},{"s":"p2","h":19.5,"v":32.1},{"s":"p2","h":19.79,"v":31.3},{"s":"p2","h":20.21,"v":30.9},{"s":"p2","h":20.5,"v":30},{"s":"p2","h":20.74,"v":28.9},{"s":"p2","h":21.16,"v":28.8},{"s":"p2","h":21.53,"v":28},{"s":"p2","h":21.78,"v":27.1},{"s":"p2","h":22.07,"v":28},{"s":"p2","h":22.27,"v":28.7},{"s":"p2","h":22.56,"v":27.8},{"s":"p2","h":22.81,"v":27.8},{"s":"p2","h":23.02,"v":28.2},{"s":"p2","h":23.31,"v":27.2},{"s":"p2","h":23.55,"v":27.2},
{"s":"p1","h":0,"v":0},{"s":"p1","h":0.5,"v":-0.5},{"s":"p1","h":1,"v":-1},{"s":"p1","h":1.5,"v":0},{"s":"p1","h":2,"v":-0.5},{"s":"p1","h":2.5,"v":1},{"s":"p1","h":3.1,"v":2},{"s":"p1","h":3.2,"v":18.3},{"s":"p1","h":3.47,"v":17.3},{"s":"p1","h":3.76,"v":18},{"s":"p1","h":3.97,"v":17.3},{"s":"p1","h":4.3,"v":17.1},{"s":"p1","h":4.9,"v":17.2},{"s":"p1","h":5.2,"v":19.5},{"s":"p1","h":5.41,"v":19.3},{"s":"p1","h":5.74,"v":18.9},{"s":"p1","h":6.03,"v":18.3},{"s":"p1","h":6.5,"v":17.5},{"s":"p1","h":7,"v":16.8},{"s":"p1","h":7.5,"v":16.5},{"s":"p1","h":7.6,"v":19.5},{"s":"p1","h":7.75,"v":20.4},{"s":"p1","h":7.95,"v":20.1},{"s":"p1","h":8.2,"v":29.5},{"s":"p1","h":8.47,"v":32.7},{"s":"p1","h":8.6,"v":31.7},{"s":"p1","h":9,"v":31.7},{"s":"p1","h":9.46,"v":31.3},{"s":"p1","h":9.66,"v":31.8},{"s":"p1","h":10,"v":34.6},{"s":"p1","h":10.16,"v":34.9},{"s":"p1","h":10.4,"v":34.2},{"s":"p1","h":10.66,"v":36},{"s":"p1","h":10.9,"v":35.2},{"s":"p1","h":11.16,"v":34.8},{"s":"p1","h":11.35,"v":41.2},{"s":"p1","h":11.82,"v":41.6},{"s":"p1","h":12.1,"v":41.8},{"s":"p1","h":12.36,"v":45},{"s":"p1","h":12.56,"v":45.4},{"s":"p1","h":12.85,"v":47.2},{"s":"p1","h":13.1,"v":46.8},{"s":"p1","h":13.6,"v":45.8},{"s":"p1","h":13.88,"v":48.8},{"s":"p1","h":14.13,"v":48.3},{"s":"p1","h":14.63,"v":46.6},{"s":"p1","h":15.12,"v":45.8},{"s":"p1","h":15.4,"v":45.8},{"s":"p1","h":15.58,"v":46.4},{"s":"p1","h":15.83,"v":45.8},{"s":"p1","h":16.12,"v":46.8},{"s":"p1","h":16.36,"v":46.2},{"s":"p1","h":16.61,"v":46.2},{"s":"p1","h":16.82,"v":48.2},{"s":"p1","h":17.07,"v":47.2},{"s":"p1","h":17.31,"v":52.4},{"s":"p1","h":17.52,"v":52.6},{"s":"p1","h":17.85,"v":51.5},{"s":"p1","h":18.26,"v":52},{"s":"p1","h":18.97,"v":50.3},{"s":"p1","h":19.55,"v":47.6},{"s":"p1","h":19.79,"v":49},{"s":"p1","h":20.33,"v":47},{"s":"p1","h":21.16,"v":44.1},{"s":"p1","h":21.86,"v":41.6},{"s":"p1","h":22.56,"v":40.2},{"s":"p1","h":23.1,"v":38.7},{"s":"p1","h":23.55,"v":37}
]},
"layer":[
{"data":{"name":"d"},
"mark":{"type":"line","strokeWidth":1,"clip":true},
"encoding":{
"x":{"field":"h","type":"quantitative","scale":{"domain":[0,23.55],"nice":false,"zero":false},
"axis":{"orient":"bottom","values":[0,1,2,3,4,5,6,7,8,9,10,11,12,13,14,15,16,17,18,19,20,21,22,23],"tickSize":-5,"tickColor":"black","labelPadding":14,"domain":false,"grid":false,"labelFont":"DejaVu Sans Mono","labelFontSize":11,"labelColor":"black","labelFlush":false,"labelOverlap":false,"title":"Hour of Day","titleFont":"DejaVu Sans Mono","titleFontSize":11,"titleFontWeight":"normal","titleColor":"black","titleY":30,"titleBaseline":"alphabetic"}},
"y":{"field":"v","type":"quantitative","scale":{"domain":[-20,60],"nice":false,"zero":false},
"axis":{"orient":"left","values":[-20,-10,0,10,20,30,40,50,60],"tickSize":-5,"tickColor":"black","labelPadding":14,"domain":false,"grid":false,"labelFont":"DejaVu Sans Mono","labelFontSize":11,"labelColor":"black","labelFlush":false,"labelOverlap":false,"title":"Cumulative (Z*Z)-1","titleFont":"DejaVu Sans Mono","titleFontSize":11,"titleFontWeight":"normal","titleColor":"black","titlePadding":8}},
"color":{"field":"s","type":"nominal","legend":null,"scale":{
"domain":["p1","p2","p3","p4","p5","p6","p7","p8","p9","p10","p11","p12","p13","p14","q1","q2","q3","q4","q5","q6","q7","q8","q9","q10","q11","q12","q13","q14","q15","q16","q17","q18","q19","q20","q21","q22","q23","q24","q25","q26","q27","q28","q29","q30","q31","q32","q33","q34","q35"],
"range":["#00ffff","#0000c0","#ff0000","#ffff00","#0000ff","#0000ff","#00ffff","#0000c0","#00a000","#00a000","#6060ff","#0000ff","#0000ff","#ffff00","#ff0000","#00a000","#0000ff","#ff40ff","#00ffff","#a00000","#ffff00","#000000","#6060ff","#ff0000","#00a000","#0000ff","#ff40ff","#00ffff","#a00000","#a00000","#000000","#ffff00","#6060ff","#ff0000","#00a000","#0000ff","#ff40ff","#00ffff","#ffff00","#000000","#6060ff","#ff0000","#0000ff","#ff40ff","#a00000","#00a000","#0000ff","#ff40ff","#ff0000"]}}
}},
{"data":{"values":[{"h":0,"v":0}]},
"mark":{"type":"point","opacity":0},
"encoding":{
"x":{"field":"h","type":"quantitative","axis":{"orient":"top","values":[0,1,2,3,4,5,6,7,8,9,10,11,12,13,14,15,16,17,18,19,20,21,22,23],"tickSize":-5,"tickColor":"black","labels":false,"domain":false,"grid":false,"title":null}},
"y":{"field":"v","type":"quantitative","axis":{"orient":"right","values":[-20,-10,0,10,20,30,40,50,60],"tickSize":-5,"tickColor":"black","labels":false,"domain":false,"grid":false,"title":null}}
}}
],
"resolve":{"axis":{"x":"independent","y":"independent"}}
}
